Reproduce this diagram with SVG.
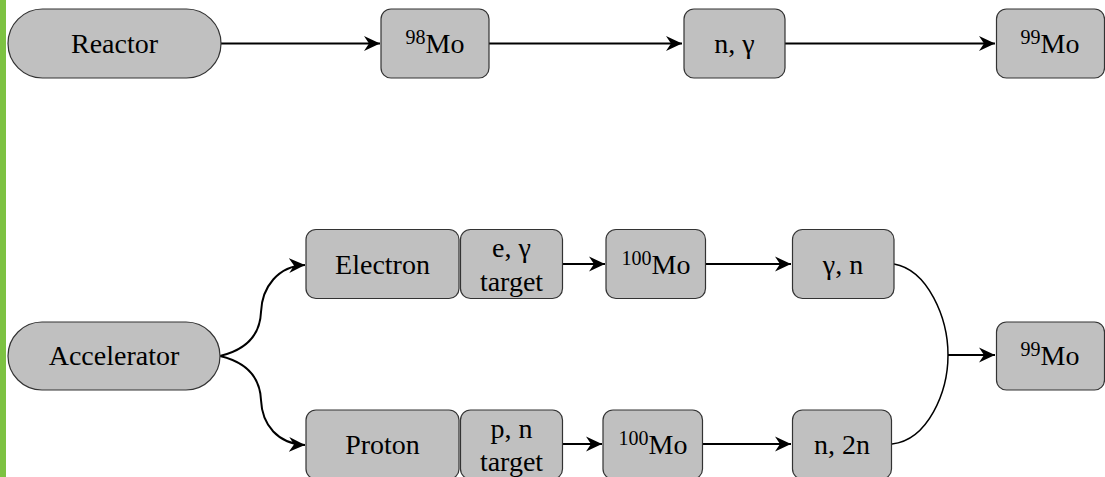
<svg xmlns="http://www.w3.org/2000/svg" width="1105" height="477" viewBox="0 0 1105 477">
<style>
.n{fill:#c0c0c0;stroke:#333;stroke-width:1.2}
.t{font-family:"Times New Roman","Liberation Serif",Times,serif;font-size:28px;fill:#000;text-anchor:middle}
.s{font-size:20px}
.e{fill:none;stroke:#000;stroke-width:2}
.m{fill:none;stroke:#000;stroke-width:1.5}
</style>
<defs>
<marker id="a" markerUnits="userSpaceOnUse" markerWidth="17" markerHeight="16" refX="16" refY="8" orient="auto" viewBox="0 0 17 16">
<path d="M0,0.5 L16,8 L0,15.5 L5,8 Z" fill="#000"/>
</marker>
</defs>
<rect x="0" y="0" width="6" height="477" fill="#7dc242"/>
<g id="connectors">
<path class="e" d="M221,43.5 H380" marker-end="url(#a)"/>
<path class="e" d="M489,43.5 H682" marker-end="url(#a)"/>
<path class="e" d="M785,43.5 H995" marker-end="url(#a)"/>
<path class="e" d="M220,356 C245,350 260,336 261,312 C262,287 278,266 305,265" marker-end="url(#a)"/>
<path class="e" d="M220,356 C245,362 260,376 261,400 C262,425 278,444 305,445" marker-end="url(#a)"/>
<path class="e" d="M563,264 H605" marker-end="url(#a)"/>
<path class="e" d="M706,264 H791" marker-end="url(#a)"/>
<path class="e" d="M563,444 H602" marker-end="url(#a)"/>
<path class="e" d="M703,444 H791" marker-end="url(#a)"/>
<path class="m" d="M894,264 C928,270 948,318 948,355 C948,392 928,440 892,444"/>
<path class="e" d="M948,355 H995" marker-end="url(#a)"/>
</g>
<g id="reactor"><rect class="n" x="8" y="9" width="213" height="69" rx="34.5"/><text class="t" x="114.5" y="53">Reactor</text></g>
<g id="mo98"><rect class="n" x="381" y="9" width="108" height="69" rx="10"/><text class="t" x="435" y="53"><tspan class="s" dy="-9">98</tspan><tspan dy="9">Mo</tspan></text></g>
<g id="ngamma"><rect class="n" x="684" y="9" width="101" height="69" rx="10"/><text class="t" x="734.5" y="53">n, γ</text></g>
<g id="mo99top"><rect class="n" x="996.5" y="9" width="108" height="69" rx="10"/><text class="t" x="1050" y="53"><tspan class="s" dy="-9">99</tspan><tspan dy="9">Mo</tspan></text></g>
<g id="accelerator"><rect class="n" x="8" y="322" width="212" height="68" rx="34"/><text class="t" x="114" y="365">Accelerator</text></g>
<g id="electron"><rect class="n" x="306" y="229.5" width="153" height="69" rx="10"/><text class="t" x="382.5" y="273.5">Electron</text></g>
<g id="egtarget"><rect class="n" x="460.5" y="229.5" width="102" height="69" rx="10"/><text class="t" x="511.5" y="257">e, γ</text><text class="t" x="511.5" y="290.5">target</text></g>
<g id="mo100top"><rect class="n" x="606" y="229.5" width="99.5" height="69" rx="10"/><text class="t" x="656" y="273.5"><tspan class="s" dy="-9">100</tspan><tspan dy="9">Mo</tspan></text></g>
<g id="gamman"><rect class="n" x="792.5" y="229.5" width="101.5" height="69" rx="10"/><text class="t" x="843" y="273.5">γ, n</text></g>
<g id="proton"><rect class="n" x="306" y="410" width="153" height="69" rx="10"/><text class="t" x="382.5" y="454">Proton</text></g>
<g id="pntarget"><rect class="n" x="460.5" y="410" width="102" height="69" rx="10"/><text class="t" x="511.5" y="438">p, n</text><text class="t" x="511.5" y="471">target</text></g>
<g id="mo100bot"><rect class="n" x="603" y="410" width="99.5" height="69" rx="10"/><text class="t" x="653" y="454"><tspan class="s" dy="-9">100</tspan><tspan dy="9">Mo</tspan></text></g>
<g id="n2n"><rect class="n" x="792.5" y="410" width="99" height="69" rx="10"/><text class="t" x="842" y="454">n, 2n</text></g>
<g id="mo99bot"><rect class="n" x="996.5" y="322" width="108" height="68" rx="10"/><text class="t" x="1050" y="365"><tspan class="s" dy="-9">99</tspan><tspan dy="9">Mo</tspan></text></g>
</svg>
